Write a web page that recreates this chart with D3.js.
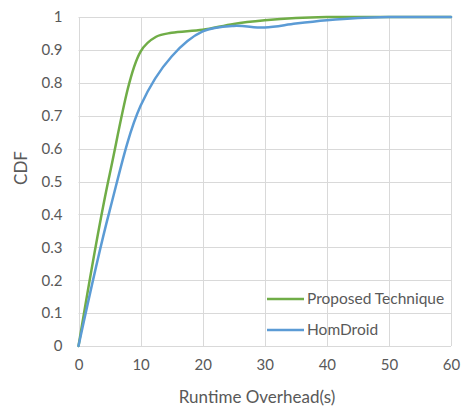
<!DOCTYPE html>
<html>
<head>
<meta charset="utf-8">
<script src="https://cdn.jsdelivr.net/npm/d3@7/dist/d3.min.js"></script>
<style>
  html, body { margin: 0; padding: 0; background: #fff; }
  svg { display: block; }
  text { font-family: Lato, "Open Sans", sans-serif; fill: #595959; }
</style>
</head>
<body>
<svg id="chart" width="468" height="407"></svg>
<script>
const proposedX = [0, 5, 10, 12.5, 15, 20, 25, 30, 35, 40, 45, 50, 55, 60];
const proposedValues = [0, 0.52, 0.895, 0.94, 0.952, 0.961, 0.979, 0.99, 0.997, 1, 1, 1, 1, 1];
const homdroidX = [0, 5, 10, 15, 20, 25, 30, 35, 40, 45, 50, 55, 60];
const homdroidValues = [0, 0.41, 0.73, 0.88, 0.956, 0.973, 0.968, 0.98, 0.99, 0.997, 1, 1, 1];
const xTicks = [0, 10, 20, 30, 40, 50, 60];
const yTicks = [0, 0.1, 0.2, 0.3, 0.4, 0.5, 0.6, 0.7, 0.8, 0.9, 1];
const seriesNames = ["Proposed Technique", "HomDroid"];
const seriesColors = ["#70AD47", "#5B9BD5"];

const svg = d3.select("#chart");
const margin = {left: 78.5, right: 17, top: 17, bottom: 61};
const W = 468, H = 407;
const x = d3.scaleLinear().domain([0, 60]).range([margin.left, W - margin.right]);
const y = d3.scaleLinear().domain([0, 1]).range([H - margin.bottom, margin.top]);

// gridlines
svg.append("g").selectAll("line.h").data(yTicks).join("line")
  .attr("x1", x(0)).attr("x2", x(60))
  .attr("y1", d => Math.round(y(d)) + 0.5).attr("y2", d => Math.round(y(d)) + 0.5)
  .attr("stroke", "#d9d9d9").attr("stroke-width", 1);
svg.append("g").selectAll("line.v").data(xTicks).join("line")
  .attr("x1", d => Math.round(x(d)) + 0.5).attr("x2", d => Math.round(x(d)) + 0.5)
  .attr("y1", y(0)).attr("y2", y(1))
  .attr("stroke", "#d9d9d9").attr("stroke-width", 1);

// axes labels
const yAxis = d3.axisLeft(y).tickValues(yTicks).tickSize(0).tickPadding(16)
  .tickFormat(d => d3.format("~g")(d));
const gy = svg.append("g").attr("transform", `translate(${x(0)},0)`).call(yAxis);
gy.select(".domain").remove();
gy.selectAll("text").style("font-size", "15px").attr("fill", "#595959")
  .style("font-family", "Lato, 'Open Sans', sans-serif");

const xAxis = d3.axisBottom(x).tickValues(xTicks).tickSize(0).tickPadding(13);
const gx = svg.append("g").attr("transform", `translate(0,${y(0)})`).call(xAxis);
gx.select(".domain").remove();
gx.selectAll("text").style("font-size", "15px").attr("fill", "#595959")
  .style("font-family", "Lato, 'Open Sans', sans-serif");

// lines
const series = [[proposedX, proposedValues], [homdroidX, homdroidValues]];
const line = d3.line().curve(d3.curveCatmullRom.alpha(0.5));
svg.append("g").selectAll("path").data(series).join("path")
  .attr("d", s => line(s[1].map((v, i) => [x(s[0][i]), y(v)])))
  .attr("fill", "none")
  .attr("stroke", (d, i) => seriesColors[i])
  .attr("stroke-width", 2.5)
  .attr("stroke-linecap", "round");

// titles
svg.append("text").attr("x", 257).attr("y", 403).attr("text-anchor", "middle")
  .style("font-size", "17px").text("Runtime Overhead(s)");
svg.append("text").attr("transform", "translate(27,168) rotate(-90)").attr("text-anchor", "middle")
  .style("font-size", "17px").text("CDF");

// legend
const legendY = [299, 330];
const lg = svg.append("g");
seriesNames.forEach((name, i) => {
  lg.append("line").attr("x1", 267).attr("x2", 304).attr("y1", legendY[i]).attr("y2", legendY[i])
    .attr("stroke", seriesColors[i]).attr("stroke-width", 2.5);
  lg.append("text").attr("x", 307).attr("y", legendY[i] + 5).style("font-size", "15.5px").text(name);
});
</script>
</body>
</html>
